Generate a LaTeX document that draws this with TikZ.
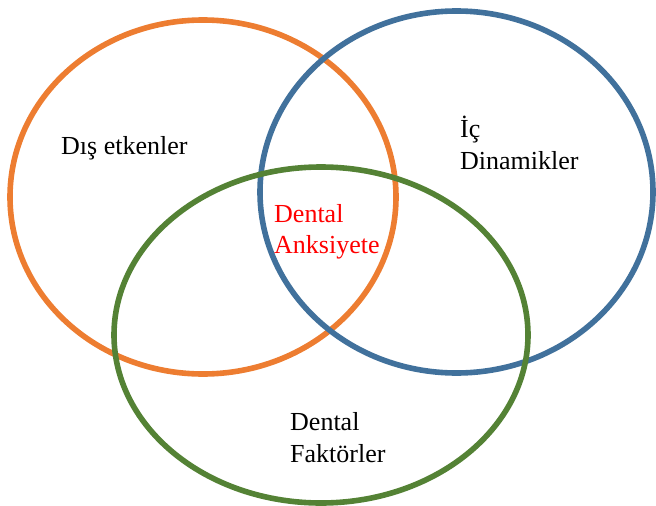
\documentclass[tikz,border=0pt]{standalone}
\usepackage{fontspec}
\setmainfont{Liberation Serif}
\definecolor{venorange}{HTML}{ED7D31}
\definecolor{venblue}{HTML}{41719C}
\definecolor{vengreen}{HTML}{548235}
\begin{document}
\begin{tikzpicture}[x=1pt,y=-1pt,
    ring/.style={line width=5.6pt},
    lbl/.style={anchor=base west,inner sep=0pt,font=\fontsize{26}{32}\selectfont}]
    \useasboundingbox (0,0) rectangle (656,506);
    % halkalar
    \draw[ring,venorange] (203,197) ellipse [x radius=193,y radius=177];
    \draw[ring,venblue] (456.5,192) ellipse [x radius=196.5,y radius=181];
    \draw[ring,vengreen] (321,335) ellipse [x radius=207,y radius=168];

    % etiketler
    \node[lbl] (dis) at (61,154) {Dış etkenler};
    \node[lbl] (ic) at (460,137) {İç};
    \node[lbl] (dinamik) at (460,169) {Dinamikler};
    \node[lbl,text=red] (dental) at (274,222) {Dental};
    \node[lbl,text=red] (anksiyete) at (274,253) {Anksiyete};
    \node[lbl] (dental2) at (290,430) {Dental};
    \node[lbl] (faktor) at (290,462) {Faktörler};
\end{tikzpicture}
\end{document}
